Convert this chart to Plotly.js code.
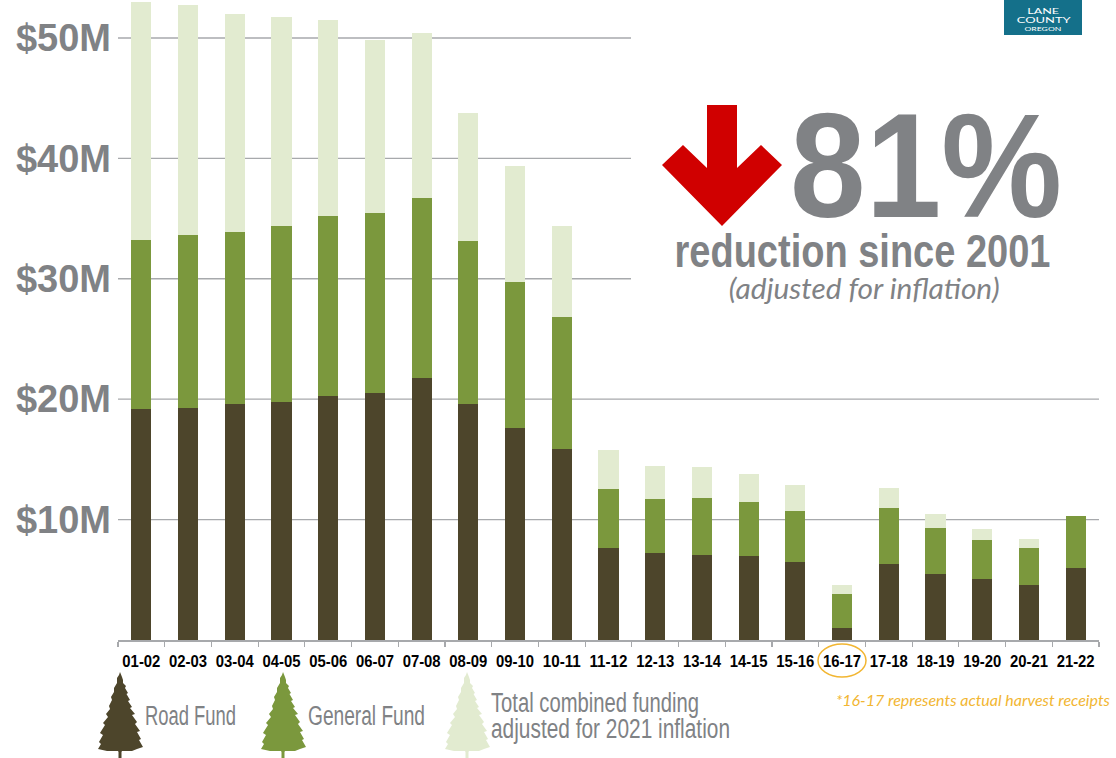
<!DOCTYPE html>
<html>
<head>
<meta charset="utf-8">
<script src="https://cdn.plot.ly/plotly-3.0.1.min.js"></script>
<style>html,body{margin:0;padding:0;background:#fff}</style>
</head>
<body>
<div id="chart" style="width:1116px;height:758px"></div>
<script>
const fiscalYears = ["01-02","02-03","03-04","04-05","05-06","06-07","07-08","08-09","09-10","10-11","11-12","12-13","13-14","14-15","15-16","16-17","17-18","18-19","19-20","20-21","21-22"];
const roadFund = [19.2,19.3,19.6,19.8,20.3,20.5,21.8,19.6,17.6,15.9,7.6,7.2,7.1,7.0,6.5,1.0,6.3,5.5,5.1,4.6,6.0];
const generalFund = [14.0,14.3,14.3,14.6,14.9,15.0,14.9,13.5,12.1,10.9,4.9,4.5,4.7,4.5,4.2,2.8,4.7,3.8,3.2,3.0,4.3];
const inflationAdjustment = [19.8,19.1,18.1,17.3,16.3,14.3,13.7,10.7,9.7,7.6,3.3,2.75,2.6,2.3,2.2,0.8,1.6,1.2,0.9,0.8,0];
const yTicks = [10,20,30,40,50];
const yTickLabels = ["$10M","$20M","$30M","$40M","$50M"];

const W = 1116, H = 758, L = 118, R = 17, T = 0, B = 118;
const px = x => (x - L) / (W - L - R);
const py = y => (H - B - y) / (H - B - T);
const GREY = "#808285", RULE = "#a7a9ac", ORANGE = "#f2b632";
const SANS = '"Liberation Sans",sans-serif';

function poly(points) {
  return "M" + points.map(p => px(p[0]).toFixed(5) + "," + py(p[1]).toFixed(5)).join("L") + "Z";
}
const treeRight = [[0,0],[2,5],[3,8],[3,11],[6,14],[5,16],[8,21],[6.5,22],[10,28],[8,29],[12,35],[10,36],[15,42],[12,43],[17,50],[15,52],[20,59],[17,60],[21,67],[19,68],[23,75],[17,77],[12,79],[2,79],[1.5,80],[1.5,86]];
const treeLeft = [[1.5,86],[1.5,80],[2,79],[13,79],[22,77],[19,72],[21,70],[17,63],[20,61],[15,53],[17,51],[12,45],[14,42],[10,37],[11,34],[8,28],[9,25],[6,20],[6,16],[3,11],[3,6],[1,3]];
function treePath(cx, top) {
  const right = treeRight.map(p => [cx + p[0], top + p[1]]);
  const left = treeLeft.map(p => [cx - p[0], top + p[1]]);
  return poly(right.concat(left));
}
function shapeTree(cx, color) {
  return {type:"path", xref:"paper", yref:"paper", path:treePath(cx, 672), fillcolor:color, line:{width:0}};
}
function label(text, x, y, size, color, opts) {
  opts = opts || {};
  const anchor = opts.anchor || "left";
  return {text:text, xref:"paper", yref:"paper", x:px(x), y:py(y), xanchor:anchor, yanchor:"middle",
    showarrow:false, align:anchor,
    font:{size:size, color:color, family:opts.family || SANS, weight:opts.weight || 400, style:opts.style || "normal"}};
}

const gridShapes = yTicks.map(v => ({
  type:"line", xref:"paper", yref:"y", x0:0, x1:v >= 30 ? px(631) : 1, y0:v, y1:v,
  layer:"below", line:{color:RULE, width:1.4}
}));

const arrow = [[707,105],[737,105],[737,168],[761,145],[782,165],[722,226],[662,165],[683,145],[707,168]];

const data = [
  {type:"bar", name:"Road Fund", x:fiscalYears, y:roadFund, marker:{color:"#4d452b"}},
  {type:"bar", name:"General Fund", x:fiscalYears, y:generalFund, marker:{color:"#7b983d"}},
  {type:"bar", name:"Total combined funding adjusted for 2021 inflation", x:fiscalYears, y:inflationAdjustment, marker:{color:"#e2ebd0"}}
];

const layout = {
  width:W, height:H, autosize:false, showlegend:false,
  margin:{l:L, r:R, t:T, b:B, pad:0},
  paper_bgcolor:"#ffffff", plot_bgcolor:"rgba(0,0,0,0)",
  barmode:"stack", bargap:0.57, hovermode:false,
  xaxis:{type:"category", categoryorder:"array", categoryarray:fiscalYears, tickson:"boundaries",
    ticks:"outside", ticklen:5, tickwidth:1.2, tickcolor:RULE, showline:true, linecolor:RULE, linewidth:2,
    showgrid:false, zeroline:false, tickangle:0, ticklabelstandoff:5,
    tickfont:{family:SANS, size:17, color:"#000000", weight:700}},
  yaxis:{range:[0,53.15], tickvals:yTicks, ticktext:yTickLabels, ticks:"", showgrid:false, zeroline:false, showline:false,
    ticklabelstandoff:6,
    tickfont:{family:SANS, size:38, color:GREY, weight:700}},
  shapes: gridShapes.concat([
    {type:"path", xref:"paper", yref:"paper", path:poly(arrow), fillcolor:"#d00000", line:{width:0}},
    {type:"rect", xref:"paper", yref:"paper", x0:px(1004), x1:px(1082), y0:py(35), y1:py(0), fillcolor:"#14708a", line:{width:0}},
    {type:"circle", xref:"paper", yref:"paper", x0:px(818), x1:px(866), y0:py(677), y1:py(644), line:{color:ORANGE, width:1.5}},
    shapeTree(120, "#4d452b"),
    shapeTree(283, "#7b983d"),
    shapeTree(467, "#e2ebd0")
  ]),
  annotations:[
    label("81%", 926, 165, 148, GREY, {anchor:"center", weight:700}),
    label("reduction since 2001", 862, 250, 47, GREY, {anchor:"center", weight:700}),
    label("(adjusted for inflation)", 864, 288, 28, GREY, {anchor:"center", style:"italic", family:"Lato,sans-serif"}),
    label("Road Fund", 143, 716, 27, GREY),
    label("General Fund", 306, 716, 27, GREY),
    label("Total combined funding", 489, 703, 27, GREY),
    label("adjusted for 2021 inflation", 489, 729, 27, GREY),
    label("*16-17 represents actual harvest receipts", 833.5, 700, 15, ORANGE, {style:"italic", family:"Lato,sans-serif"}),
    label("LANE", 1043, 11.5, 8, "#ffffff", {anchor:"center", family:"Lato,sans-serif"}),
    label("COUNTY", 1043, 20.5, 8, "#ffffff", {anchor:"center", family:"Lato,sans-serif"}),
    label("OREGON", 1043, 29, 6.5, "#ffffff", {anchor:"center", family:"Lato,sans-serif"})
  ]
};

// The reference uses a condensed typeface: fit the real text to the widths it has there.
const textWidths = {
  "81%":272, "reduction since 2001":376, "(adjusted for inflation)":271,
  "Road Fund":91, "General Fund":117, "Total combined funding":208, "adjusted for 2021 inflation":239,
  "*16-17 represents actual harvest receipts":274, "LANE":32, "COUNTY":54, "OREGON":37
};
function fit(el, width) {
  el.setAttribute("textLength", width);
  el.setAttribute("lengthAdjust", "spacingAndGlyphs");
}
Plotly.newPlot("chart", data, layout, {displayModeBar:false, staticPlot:true}).then(() => {
  document.querySelectorAll("#chart .annotation-text").forEach(el => {
    const w = textWidths[el.textContent];
    if (w) fit(el, w);
  });
  document.querySelectorAll("#chart .xtick text").forEach(el => fit(el, 38));
});
</script>
</body>
</html>
